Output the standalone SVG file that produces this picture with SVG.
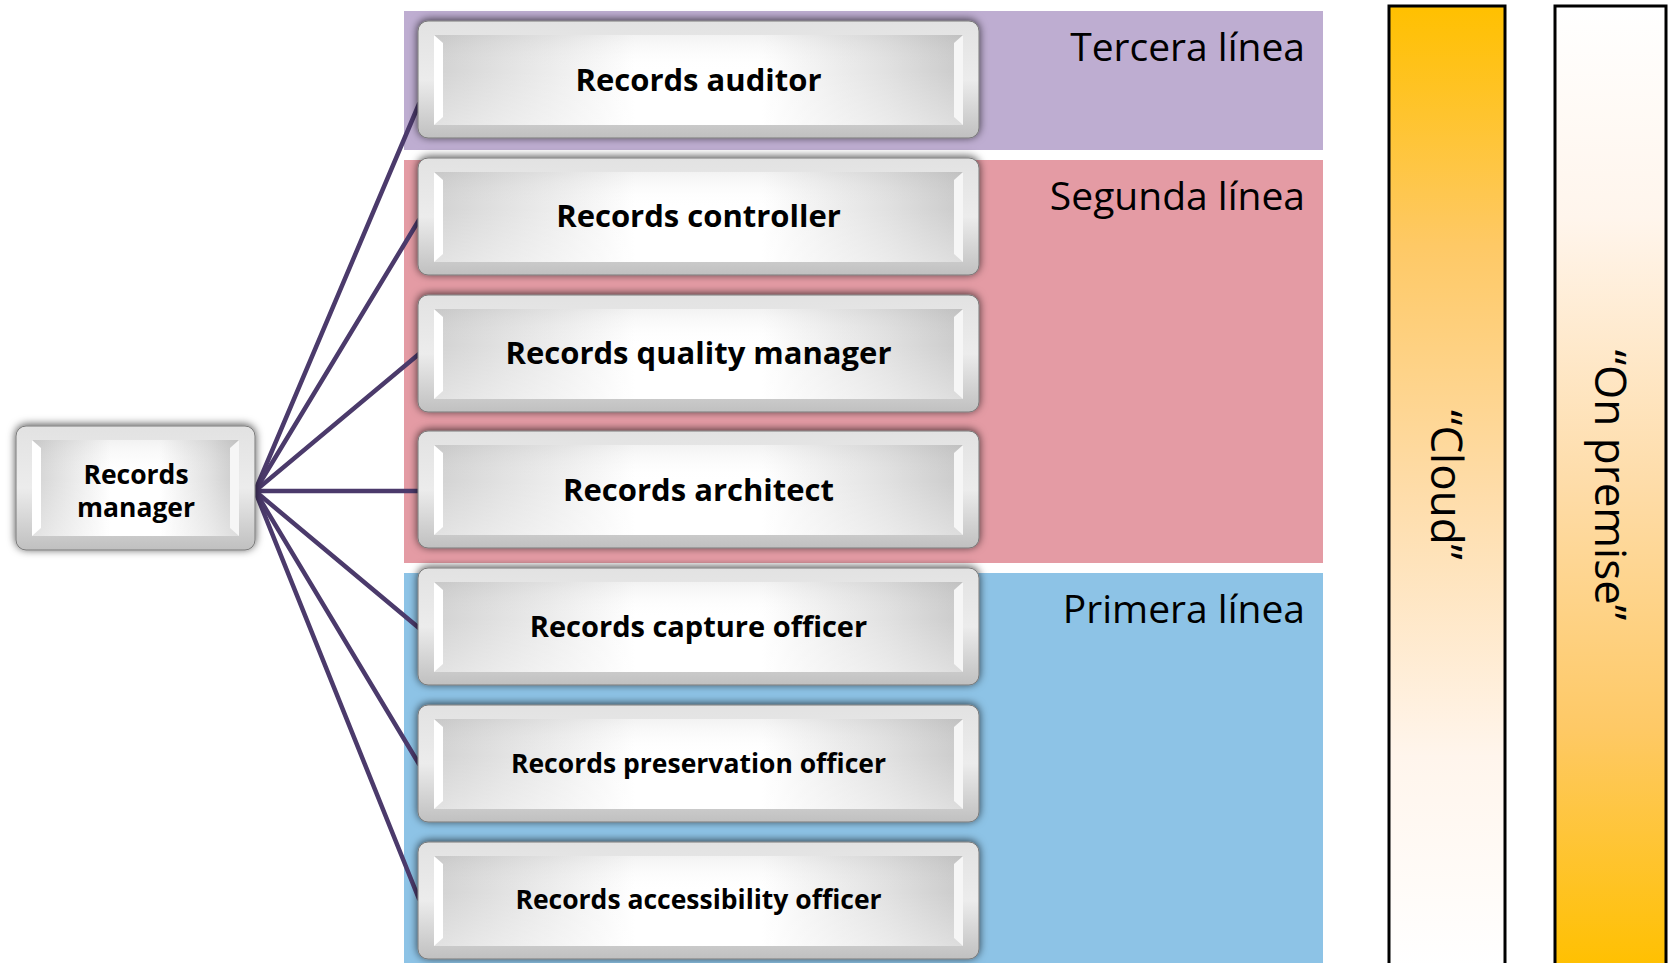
<svg xmlns="http://www.w3.org/2000/svg" width="1669" height="963" viewBox="0 0 1669 963">
<defs>
  <linearGradient id="gOuter" x1="0" y1="0" x2="0" y2="1">
    <stop offset="0" stop-color="#e2e2e2"/>
    <stop offset="0.5" stop-color="#ececec"/>
    <stop offset="1" stop-color="#c0c0c0"/>
  </linearGradient>
  <linearGradient id="gFace" x1="0" y1="0" x2="1" y2="0">
    <stop offset="0" stop-color="#d2d2d2"/>
    <stop offset="0.15" stop-color="#e4e4e4"/>
    <stop offset="0.38" stop-color="#ffffff"/>
    <stop offset="0.62" stop-color="#ffffff"/>
    <stop offset="0.85" stop-color="#e2e2e2"/>
    <stop offset="1" stop-color="#cacaca"/>
  </linearGradient>
  <linearGradient id="gFaceV" x1="0" y1="0" x2="0" y2="1">
    <stop offset="0" stop-color="#000" stop-opacity="0.05"/>
    <stop offset="0.4" stop-color="#fff" stop-opacity="0"/>
    <stop offset="1" stop-color="#fff" stop-opacity="0.35"/>
  </linearGradient>
  <linearGradient id="gCloud" x1="0" y1="0" x2="0" y2="1">
    <stop offset="0" stop-color="#FFC000"/>
    <stop offset="0.25" stop-color="#FEC966"/>
    <stop offset="0.5" stop-color="#FEDCA8"/>
    <stop offset="0.78" stop-color="#FFF5EC"/>
    <stop offset="1" stop-color="#FFFFFF"/>
  </linearGradient>
  <linearGradient id="gPrem" x1="0" y1="1" x2="0" y2="0">
    <stop offset="0" stop-color="#FFC000"/>
    <stop offset="0.25" stop-color="#FEC966"/>
    <stop offset="0.5" stop-color="#FEDCA8"/>
    <stop offset="0.78" stop-color="#FFF5EC"/>
    <stop offset="1" stop-color="#FFFFFF"/>
  </linearGradient>
  <filter id="sh" x="-5%" y="-20%" width="110%" height="140%">
    <feDropShadow dx="0" dy="-1" stdDeviation="4.5" flood-color="#000" flood-opacity="0.7"/>
  </filter>
  <style>
    .bo{fill:url(#gOuter);stroke:#7a7a7a;stroke-width:1;filter:url(#sh)}
    .bf{fill:url(#gFace)}
    .bv{fill:url(#gFaceV)}
    .bh{fill:#ffffff}
    .br{fill:#f6f6f6}
    .lbl{font-family:"Open Sans","Liberation Sans",sans-serif;font-weight:700;font-size:31px;text-anchor:middle;fill:#000}
    .sm{font-size:26.5px}
    .md{font-size:29px}
    .band{font-family:"Open Sans","Liberation Sans",sans-serif;font-size:39px;text-anchor:end;fill:#000}
    .col{font-family:"Open Sans","Liberation Sans",sans-serif;font-size:44px;text-anchor:middle;fill:#000}
    .conn{stroke:#4B3A6B;stroke-width:4.5;fill:none;stroke-linecap:round}
    .colbox{stroke:#000;stroke-width:3}
  </style>
</defs>
<rect width="1669" height="963" fill="#ffffff"/>

<g id="bands">
  <rect x="404" y="11" width="919" height="139" fill="#BEADD1"/>
  <rect x="404" y="160" width="919" height="403" fill="#E49BA4"/>
  <rect x="404" y="573" width="919" height="390" fill="#8DC3E6"/>
  <text class="band" x="1305" y="61">Tercera línea</text>
  <text class="band" x="1305" y="210">Segunda línea</text>
  <text class="band" x="1305" y="623">Primera línea</text>
</g>

<g id="cloud">
  <rect class="colbox" x="1389" y="6" width="116" height="962" fill="url(#gCloud)"/>
  <text class="col" transform="translate(1431,485) rotate(90)">“Cloud”</text>
</g>
<g id="onpremise">
  <rect class="colbox" x="1555" y="6" width="111" height="962" fill="url(#gPrem)"/>
  <text class="col" transform="translate(1595,485) rotate(90)">“On premise”</text>
</g>

<g id="connectors">
  <line class="conn" x1="255" y1="491" x2="419" y2="104"/>
  <line class="conn" x1="255" y1="491" x2="419" y2="220"/>
  <line class="conn" x1="255" y1="491" x2="419" y2="354"/>
  <line class="conn" x1="255" y1="491" x2="419" y2="491"/>
  <line class="conn" x1="255" y1="491" x2="419" y2="628"/>
  <line class="conn" x1="255" y1="491" x2="419" y2="764"/>
  <line class="conn" x1="255" y1="491" x2="419" y2="899"/>
</g>

<g id="records-manager" transform="translate(16,426)">
  <rect class="bo" width="239" height="124" rx="10"/>
  <rect class="bf" x="16" y="14" width="207" height="96"/>
  <rect class="bv" x="16" y="14" width="207" height="96"/>
  <polygon class="bh" points="16,14 25,22 25,102 16,110"/>
  <polygon class="br" points="223,14 214,22 214,102 223,110"/>
  <text class="lbl sm" x="120" y="58">Records</text>
  <text class="lbl sm" x="120" y="91">manager</text>
</g>

<g id="records-auditor" transform="translate(418,21)">
  <rect class="bo" width="561" height="117" rx="10"/>
  <rect class="bf" x="16" y="14" width="529" height="90"/>
  <rect class="bv" x="16" y="14" width="529" height="90"/>
  <polygon class="bh" points="16,14 25,22 25,96 16,104"/>
  <polygon class="br" points="545,14 536,22 536,96 545,104"/>
  <text class="lbl" x="280.5" y="70">Records auditor</text>
</g>

<g id="records-controller" transform="translate(418,158)">
  <rect class="bo" width="561" height="117" rx="10"/>
  <rect class="bf" x="16" y="14" width="529" height="90"/>
  <rect class="bv" x="16" y="14" width="529" height="90"/>
  <polygon class="bh" points="16,14 25,22 25,96 16,104"/>
  <polygon class="br" points="545,14 536,22 536,96 545,104"/>
  <text class="lbl" x="280.5" y="69">Records controller</text>
</g>

<g id="records-quality-manager" transform="translate(418,295)">
  <rect class="bo" width="561" height="117" rx="10"/>
  <rect class="bf" x="16" y="14" width="529" height="90"/>
  <rect class="bv" x="16" y="14" width="529" height="90"/>
  <polygon class="bh" points="16,14 25,22 25,96 16,104"/>
  <polygon class="br" points="545,14 536,22 536,96 545,104"/>
  <text class="lbl" x="280.5" y="69">Records quality manager</text>
</g>

<g id="records-architect" transform="translate(418,431)">
  <rect class="bo" width="561" height="117" rx="10"/>
  <rect class="bf" x="16" y="14" width="529" height="90"/>
  <rect class="bv" x="16" y="14" width="529" height="90"/>
  <polygon class="bh" points="16,14 25,22 25,96 16,104"/>
  <polygon class="br" points="545,14 536,22 536,96 545,104"/>
  <text class="lbl" x="280.5" y="70">Records architect</text>
</g>

<g id="records-capture-officer" transform="translate(418,568)">
  <rect class="bo" width="561" height="117" rx="10"/>
  <rect class="bf" x="16" y="14" width="529" height="90"/>
  <rect class="bv" x="16" y="14" width="529" height="90"/>
  <polygon class="bh" points="16,14 25,22 25,96 16,104"/>
  <polygon class="br" points="545,14 536,22 536,96 545,104"/>
  <text class="lbl md" x="280.5" y="69">Records capture officer</text>
</g>

<g id="records-preservation-officer" transform="translate(418,705)">
  <rect class="bo" width="561" height="117" rx="10"/>
  <rect class="bf" x="16" y="14" width="529" height="90"/>
  <rect class="bv" x="16" y="14" width="529" height="90"/>
  <polygon class="bh" points="16,14 25,22 25,96 16,104"/>
  <polygon class="br" points="545,14 536,22 536,96 545,104"/>
  <text class="lbl sm" x="280.5" y="68">Records preservation officer</text>
</g>

<g id="records-accessibility-officer" transform="translate(418,842)">
  <rect class="bo" width="561" height="117" rx="10"/>
  <rect class="bf" x="16" y="14" width="529" height="90"/>
  <rect class="bv" x="16" y="14" width="529" height="90"/>
  <polygon class="bh" points="16,14 25,22 25,96 16,104"/>
  <polygon class="br" points="545,14 536,22 536,96 545,104"/>
  <text class="lbl sm" x="280.5" y="67">Records accessibility officer</text>
</g>
</svg>
